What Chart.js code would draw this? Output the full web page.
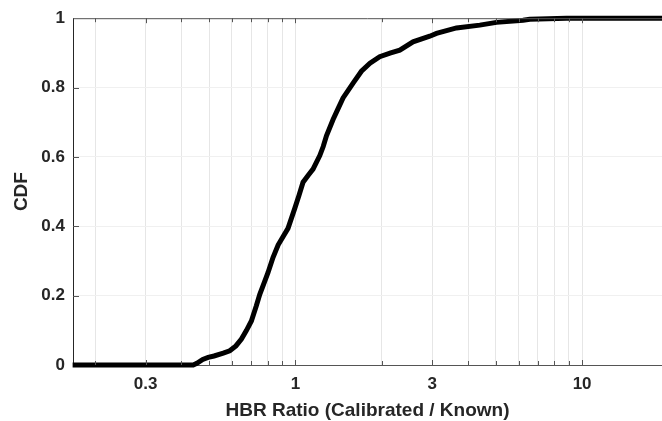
<!DOCTYPE html>
<html>
<head>
<meta charset="utf-8">
<script src="https://cdn.jsdelivr.net/npm/chart.js@4"></script>
<style>
  html, body { margin: 0; padding: 0; background: #fff; }
  #wrap { width: 662px; height: 421px; }
</style>
</head>
<body>
<div id="wrap"><canvas id="myChart"></canvas></div>
<script>
const ratio = [0.167, 0.44, 0.453, 0.475, 0.496, 0.52, 0.56, 0.59, 0.62, 0.648, 0.675, 0.702, 0.73, 0.751, 0.78,
  0.802, 0.835, 0.87, 0.905, 0.942, 0.994, 1.03, 1.063, 1.11, 1.152, 1.216, 1.25, 1.283, 1.353, 1.41, 1.466,
  1.589, 1.699, 1.82, 1.968, 2.15, 2.312, 2.572, 2.942, 3.105, 3.646, 4.396, 5.026, 6.225, 6.57, 8.82, 19];
const cdf = [0, 0, 0.005, 0.016, 0.022, 0.026, 0.034, 0.041, 0.055, 0.075, 0.1, 0.127, 0.17, 0.204, 0.24,
  0.266, 0.31, 0.346, 0.37, 0.394, 0.451, 0.49, 0.527, 0.548, 0.565, 0.604, 0.63, 0.661, 0.708, 0.74, 0.77,
  0.813, 0.847, 0.87, 0.889, 0.9, 0.908, 0.932, 0.948, 0.956, 0.972, 0.98, 0.988, 0.994, 0.997, 1, 1];

const xLabels = [0.3, 1, 3, 10];
const xGrid = [0.2, 0.3, 0.4, 0.5, 0.6, 0.7, 0.8, 0.9, 1, 2, 3, 4, 5, 6, 7, 8, 9, 10];
const xMin = 0.1675;
const xMax = 19;

const fontFamily = "'Liberation Sans', Arial, sans-serif";
const tickFont = { family: fontFamily, size: 17, weight: "bold" };
const titleFont = { family: fontFamily, size: 19, weight: "bold", lineHeight: 1 };
const axisColor = "#262626";

// MATLAB-style inward tick marks and top box line
const boxTicks = {
  id: "boxTicks",
  afterDraw(chart) {
    const ctx = chart.ctx;
    const a = chart.chartArea;
    const xs = chart.scales.x;
    const ys = chart.scales.y;
    ctx.save();
    ctx.lineWidth = 1;
    ctx.strokeStyle = "#555";
    ctx.beginPath();
    ctx.moveTo(a.left, a.top + 0.5);
    ctx.lineTo(a.right, a.top + 0.5);
    ctx.stroke();
    xGrid.forEach((v) => {
      const px = Math.round(xs.getPixelForValue(v)) + 0.5;
      const len = xLabels.includes(v) ? 5 : 4;
      ctx.beginPath();
      ctx.moveTo(px, a.bottom);
      ctx.lineTo(px, a.bottom - len);
      ctx.moveTo(px, a.top);
      ctx.lineTo(px, a.top + len);
      ctx.stroke();
    });
    [0.2, 0.4, 0.6, 0.8].forEach((v) => {
      const py = Math.round(ys.getPixelForValue(v)) + 0.5;
      ctx.beginPath();
      ctx.moveTo(a.left, py);
      ctx.lineTo(a.left + 6, py);
      ctx.stroke();
    });
    ctx.restore();
  },
};

const config = {
  type: "line",
  data: {
    datasets: [
      {
        label: "CDF",
        data: ratio.map((r, i) => ({ x: r, y: cdf[i] })),
        borderColor: "#000",
        borderWidth: 5,
        pointRadius: 0,
        tension: 0,
        fill: false,
        clip: false,
      },
    ],
  },
  options: {
    responsive: true,
    maintainAspectRatio: false,
    animation: false,
    layout: { padding: { top: 15, right: 0, left: 0, bottom: 0 } },
    plugins: {
      legend: { display: false },
      tooltip: { enabled: false },
    },
    scales: {
      x: {
        type: "logarithmic",
        min: xMin,
        max: xMax,
        afterBuildTicks: (scale) => {
          scale.ticks = xGrid.map((v) => ({ value: v, major: false }));
        },
        afterFit: (scale) => {
          scale.height = 56;
        },
        ticks: {
          autoSkip: false,
          maxRotation: 0,
          padding: 9,
          color: axisColor,
          font: tickFont,
          callback: (v) => (xLabels.includes(v) ? String(v) : ""),
        },
        grid: { color: "#e6e6e6", drawTicks: false },
        border: { color: "#555", width: 1 },
        title: {
          display: true,
          text: "HBR Ratio (Calibrated / Known)",
          color: axisColor,
          font: titleFont,
          padding: { top: 1, bottom: 1 },
        },
      },
      y: {
        min: 0,
        max: 1,
        afterFit: (scale) => {
          scale.width = 73;
        },
        ticks: {
          stepSize: 0.2,
          padding: 8,
          color: axisColor,
          font: tickFont,
          callback: (v) => String(+v.toFixed(1)),
        },
        grid: { color: "#f0f0f0", drawTicks: false },
        border: { color: axisColor, width: 1 },
        title: {
          display: true,
          text: "CDF",
          color: axisColor,
          font: titleFont,
          padding: { top: 12, bottom: 12 },
        },
      },
    },
  },
  plugins: [boxTicks],
};

let myChart = new Chart(document.getElementById("myChart"), config);
</script>
</body>
</html>
